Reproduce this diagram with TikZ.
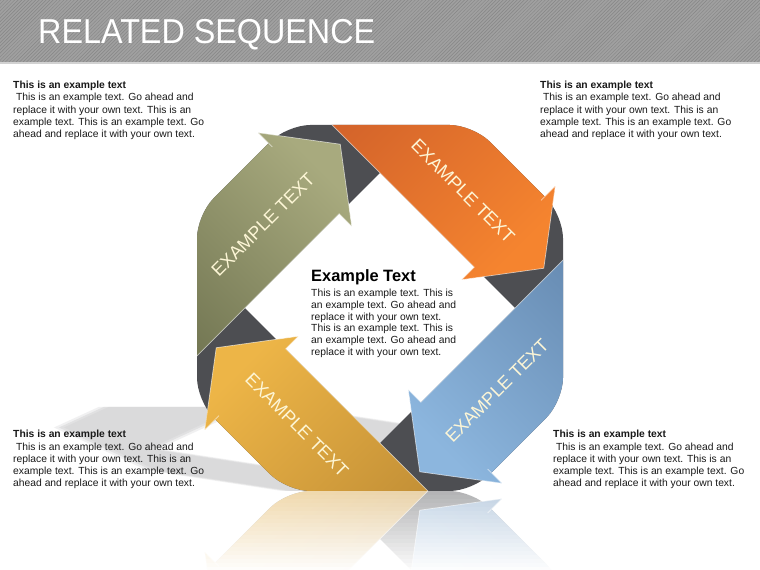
\documentclass[tikz,border=0pt]{standalone}
\usepackage{fontspec}
\setmainfont{Liberation Sans}
\usetikzlibrary{positioning,patterns}
\definecolor{hdrgray}{HTML}{A0A0A0}
\definecolor{hdrline}{HTML}{868686}
\definecolor{ringgray}{HTML}{4D4E52}
\definecolor{olvA}{HTML}{6F7350}
\definecolor{olvB}{HTML}{A8AA7E}
\definecolor{orgA}{HTML}{D0602A}
\definecolor{orgB}{HTML}{F5842F}
\definecolor{bluA}{HTML}{6589B0}
\definecolor{bluB}{HTML}{8CB6DE}
\definecolor{ylwA}{HTML}{C08D35}
\definecolor{ylwB}{HTML}{EDB547}
\definecolor{lblcream}{HTML}{FDF6D6}
\definecolor{shadowgray}{HTML}{C6C6C8}
\tikzset{
  note/.style={anchor=north west, align=left, inner sep=0pt, text=black!90,
               font=\fontsize{8.8}{10.5}\selectfont},
  chead/.style={anchor=north west, inner sep=0pt, font=\fontsize{14}{14}\selectfont\bfseries},
  lbl/.style={inner sep=0pt, text=lblcream, font=\fontsize{15.5}{15.5}\selectfont},
  titletext/.style={anchor=base west, inner sep=0pt, text=white,
                    font=\fontsize{29.5}{29.5}\selectfont},
  arrowedge/.style={draw=white, draw opacity=0.6, line width=0.6pt},
}
% octagon outline in the frame of one arrow (px units)
\newcommand\octpath{(0,195.2) -- (63.6,195.2) -- (195.2,63.6) -- (195.2,-63.6)
  -- (63.6,-195.2) -- (-63.6,-195.2) -- (-195.2,-63.6) -- (-195.2,63.6)
  -- (-63.6,195.2) -- cycle}
\newcommand\seqshape{%
  \fill[ringgray, even odd rule] [rounded corners=0.7cm] \octpath
    [sharp corners] (-95.5,-95.5) rectangle (95.5,95.5);
  \foreach \ang/\ca/\cb in {0/olvA/olvB, -90/orgA/orgB, 180/bluA/bluB, 90/ylwA/ylwB} {
    \begin{scope}[rotate=\ang]
      \clip [rounded corners=0.7cm] \octpath [sharp corners]
        (37.8,210) -- (87.7,143.9) -- (37.8,77.8) -- cycle;
      \shade[bottom color=\ca, top color=\cb, shading angle=\ang-45]
        (-170,95.5) -- (37.8,95.5) -- (37.8,77.8)
        -- (87.7,143.9) -- (37.8,210) -- (37.8,215) -- (-170,215) -- cycle;
      \draw[arrowedge] (-165,95.5) -- (37.8,95.5) -- (37.8,77.8) -- (87.7,143.9)
        -- (37.8,210) -- (37.8,190);
    \end{scope}
  }%
}
\begin{document}
\begin{tikzpicture}[x=0.03cm, y=0.03cm]
\useasboundingbox (0,0) rectangle (760,570);
\fill[white] (0,0) rectangle (760,570);

% header band
\fill[hdrgray] (0,508) rectangle (760,570);
\fill[pattern=north east lines, pattern color=hdrline] (0,508) rectangle (760,570);
\fill[black!18] (0,505.5) rectangle (760,508);
\node[titletext] (title) at (38,526) {\scalebox{0.935}[1]{RELATED SEQUENCE}};

% floor shadow
\begin{scope}
  \clip (0,60) rectangle (400,200);
  \foreach \dx/\op in {0/0.35, 5/0.25, -5/0.25} {
    \begin{scope}[shift={(\dx,79)}, yscale=0.23, xslant=-0.5, shift={(0,-79)},
                  shift={(380,262)}, rotate=45]
      \fill[shadowgray, even odd rule, opacity=\op] \octpath (-95.5,-95.5) rectangle (95.5,95.5);
    \end{scope}
  }
\end{scope}

% reflection
\begin{scope}[shift={(0,79)}, yscale=-1, shift={(0,-79)}, shift={(380,262)}, rotate=45]
  \seqshape
\end{scope}
\foreach \i [evaluate=\i as \op using 0.58+0.021*\i] in {0,...,19}
  \fill[white, opacity=\op] (150,79-4*\i) rectangle (620,75-4*\i);

% main shape
\begin{scope}[shift={(380,262)}, rotate=45]
  \seqshape
  \foreach \ang/\rot/\nm in {0/45/olive, -90/-45/orange, 180/45/blue, 90/-45/yellow} {
    \begin{scope}[rotate=\ang]
      \node[lbl, rotate=\rot] (lbl-\nm) at (-24,141.4) {EXAMPLE TEXT};
    \end{scope}
  }
\end{scope}

% centre text
\node[chead] (cheading) at (311,300.5) {Example Text};
\node[note, below=3pt of cheading.south west, anchor=north west,
      font=\fontsize{8.8}{10.1}\selectfont] (cbody)
  {This is an example text. This is\\an example text. Go ahead and\\
   replace it with your own text.\\This is an example text. This is\\
   an example text. Go ahead and\\replace it with your own text.};

% corner notes
\foreach \x/\y/\nm in {13/489/tl, 540/489/tr, 13/140/bl, 553/140/br} {
  \node[note] (note-\nm) at (\x,\y)
    {\textbf{This is an example text}\\
     \hspace*{2.5pt}This is an example text. Go ahead and\\
     replace it with your own text. This is an\\
     example text. This is an example text. Go\\
     ahead and replace it with your own text.};
}
\end{tikzpicture}
\end{document}
